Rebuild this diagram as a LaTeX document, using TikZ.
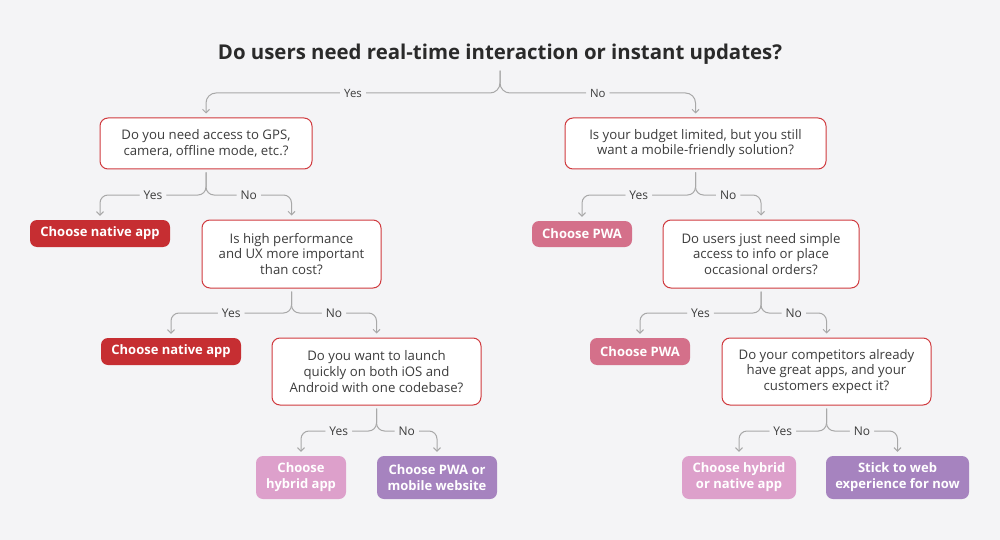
\documentclass[tikz,border=0pt]{standalone}
\usepackage{fontspec}
\setmainfont{Open Sans}
\usepackage{tikz}
\usetikzlibrary{arrows.meta}
\usetikzlibrary{positioning}
\definecolor{bgcol}{HTML}{F4F4F6}
\definecolor{qred}{HTML}{D03A3E}
\definecolor{natred}{HTML}{C62E32}
\definecolor{pwarose}{HTML}{D4708A}
\definecolor{hybpink}{HTML}{DDA0CB}
\definecolor{webpurple}{HTML}{A683BF}
\definecolor{lngray}{HTML}{A8A8A8}
\definecolor{txtgray}{HTML}{3C3C3C}
\definecolor{ttlgray}{HTML}{2A2A2A}

\begin{document}
\begin{tikzpicture}[x=1pt,y=-1pt,
                ques/.style n args={2}{draw=qred,fill=white,
                    line width=1pt,
                    minimum width=#1pt,
                    minimum height=#2pt,
                    rounded corners=8pt,
                    inner sep=0pt,align=center,text=txtgray,
                    font=\fontsize{13.2}{15.8}\selectfont},
                ans/.style n args={3}{fill=#1,
                    minimum width=#2pt,
                    minimum height=#3pt,
                    rounded corners=7pt,
                    inner sep=0pt,align=center,text=white,
                    font=\fontsize{13}{16}\selectfont\bfseries},
                link/.style={draw=lngray,line width=1pt,
                    rounded corners=8pt,
                    shorten <=3pt,shorten >=4pt,
                    -{Straight Barb[length=3.5pt,width=7pt]}},
                lbl/.style={fill=bgcol,inner sep=4pt,text=txtgray,
                    font=\fontsize{12}{14}\selectfont}]
                \fill[bgcol] (0,0) rectangle (1000,540);
                \useasboundingbox (0,0) rectangle (1000,540);
                \node[text=ttlgray,font=\fontsize{20.4}{24}\selectfont\bfseries] (title) at (500,54)
                    {Do users need real-time interaction or instant updates?};
                \node[ques={212}{51}] (q1) at (206,143.5) {Do you need access to GPS,\\camera, offline mode, etc.?};
                \node[ques={179}{68}] (q2) at (291.5,254) {Is high performance\\and UX more important\\than cost?};
                \node[ques={209}{67}] (q3) at (376.5,371.5) {Do you want to launch\\quickly on both iOS and\\Android with one codebase?};
                \node[ques={261}{51}] (q4) at (695.5,143.5) {Is your budget limited, but you still\\want a mobile-friendly solution?};
                \node[ques={196}{68}] (q5) at (761,254) {Do users just need simple\\access to info or place\\occasional orders?};
                \node[ques={209}{67}] (q6) at (826.5,371.5) {Do your competitors already\\have great apps, and your\\customers expect it?};
                \node[ans={natred}{140}{27}] (nat1) at (100,233.5) {Choose native app};
                \node[ans={natred}{140}{27}] (nat2) at (171,351.5) {Choose native app};
                \node[ans={hybpink}{90}{43}] (hyb1) at (301,477.5) {Choose\\hybrid app};
                \node[ans={webpurple}{120}{43}] (web1) at (437,477.5) {Choose PWA or\\mobile website};
                \node[ans={pwarose}{100}{26}] (pwa1) at (582,234) {Choose PWA};
                \node[ans={pwarose}{100}{27}] (pwa2) at (640,351.5) {Choose PWA};
                \node[ans={hybpink}{114}{43}] (hyb2) at (739,477.5) {Choose hybrid\\or native app};
                \node[ans={webpurple}{143}{43}] (web2) at (897.5,477.5) {Stick to web\\experience for now};
                \coordinate (s0) at (500,93);
                \coordinate (s1) at (206,195);
                \coordinate (s2) at (291,313);
                \coordinate (s3) at (377,431);
                \coordinate (s4) at (695,195);
                \coordinate (s5) at (761,313);
                \coordinate (s6) at (826,431);
                \draw[link,rounded corners=10pt] (title.south) |- node[lbl,pos=0.75,font=\fontsize{11.4}{14}\selectfont] {Yes} (q1.north |- s0) -- (q1.north);
                \draw[link,rounded corners=10pt] (title.south) |- node[lbl,pos=0.75,font=\fontsize{11.4}{14}\selectfont] {No} (q4.north |- s0) -- (q4.north);
                \draw[link] (q1.south) |- node[lbl,pos=0.75] {Yes} (nat1.north |- s1) -- (nat1.north);
                \draw[link] (q1.south) |- node[lbl,pos=0.75] {No} (q2.north |- s1) -- (q2.north);
                \draw[link] (q2.south) |- node[lbl,pos=0.75] {Yes} (nat2.north |- s2) -- (nat2.north);
                \draw[link] (q2.south) |- node[lbl,pos=0.75] {No} (q3.north |- s2) -- (q3.north);
                \draw[link] (q3.south) |- node[lbl,pos=0.75] {Yes} (hyb1.north |- s3) -- (hyb1.north);
                \draw[link] (q3.south) |- node[lbl,pos=0.75] {No} (web1.north |- s3) -- (web1.north);
                \draw[link] (q4.south) |- node[lbl,pos=0.75] {Yes} (pwa1.north |- s4) -- (pwa1.north);
                \draw[link] (q4.south) |- node[lbl,pos=0.75] {No} (q5.north |- s4) -- (q5.north);
                \draw[link] (q5.south) |- node[lbl,pos=0.75] {Yes} (pwa2.north |- s5) -- (pwa2.north);
                \draw[link] (q5.south) |- node[lbl,pos=0.75] {No} (q6.north |- s5) -- (q6.north);
                \draw[link] (q6.south) |- node[lbl,pos=0.75] {Yes} (hyb2.north |- s6) -- (hyb2.north);
                \draw[link] (q6.south) |- node[lbl,pos=0.75] {No} (web2.north |- s6) -- (web2.north);
            \end{tikzpicture}
\end{document}
